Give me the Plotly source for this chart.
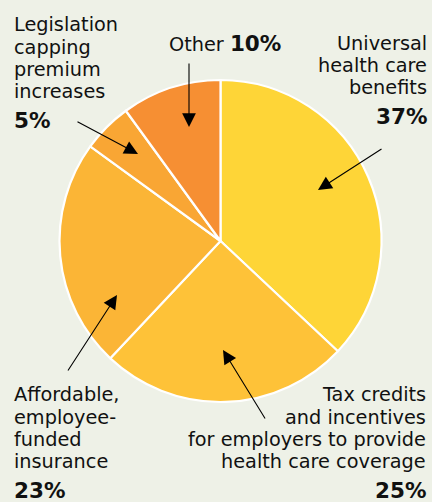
import plotly.graph_objects as go

# Survey shares, clockwise from 12 o'clock
categories = [
    "Universal health care benefits",
    "Tax credits and incentives for employers to provide health care coverage",
    "Affordable, employee-funded insurance",
    "Legislation capping premium increases",
    "Other",
]
values = [37, 25, 23, 5, 10]
slice_colors = ["#fed537", "#fec238", "#fbb536", "#f9a634", "#f68f33"]

# Wrapped label lines for each category
label_lines = [
    ["Universal", "health care", "benefits"],
    ["Tax credits", "and incentives", "for employers to provide", "health care coverage"],
    ["Affordable,", "employee-", "funded", "insurance"],
    ["Legislation", "capping", "premium", "increases"],
    ["Other"],
]

W, H = 432, 502
BG = "#eef1e7"
FONT = "DejaVu Sans"
FS = 19.3
PFS = 21.5
LINE = 22.3

fig = go.Figure()

# Pie geometry (pixels): centre and radius
cx, cy, r = 220.5, 241.0, 161.0
fig.add_trace(go.Pie(
    labels=categories,
    values=values,
    sort=False,
    direction="clockwise",
    rotation=0,
    marker=dict(colors=slice_colors, line=dict(color="white", width=2.2)),
    textinfo="none",
    hoverinfo="label+percent",
    showlegend=False,
    domain=dict(x=[(cx - r) / W, (cx + r) / W],
                y=[1 - (cy + r) / H, 1 - (cy - r) / H]),
))


def px(x):
    return x / W


def py(y):
    return 1 - y / H


def add_text(text, x, baseline, anchor, size, bold=False):
    # centre of the text box sits ~0.35em above the baseline
    yc = baseline - 0.35 * size
    fig.add_annotation(
        x=px(x), y=py(yc), xref="paper", yref="paper",
        text=f"<b>{text}</b>" if bold else text,
        showarrow=False, xanchor=anchor, yanchor="middle",
        font=dict(family=FONT, size=size, color="#111111"),
        borderpad=0,
    )


# Block placement: (x, first baseline, anchor)
blocks = {
    0: (428, 50.0, "right"),
    1: (427, 401.7, "right"),
    2: (13, 401.7, "left"),
    3: (13, 31.7, "left"),
}
for i, (x, b0, anchor) in blocks.items():
    lines = label_lines[i]
    for k, line in enumerate(lines):
        add_text(line, x, b0 + k * LINE, anchor, FS)
    last = b0 + (len(lines) - 1) * LINE
    add_text(f"{values[i]}%", x, last + 29.5, anchor, PFS, bold=True)

# "Other" sits on one line with its share
fig.add_annotation(
    x=px(225.5), y=py(50 - 0.35 * FS), xref="paper", yref="paper",
    text=f"{label_lines[4][0]} <b><span style='font-size:{PFS}px'>{values[4]}%</span></b>",
    showarrow=False, xanchor="center", yanchor="middle",
    font=dict(family=FONT, size=FS, color="#111111"), borderpad=0,
)

# Leader arrows: (tip x, tip y, tail x, tail y)
arrows = [
    (318, 190, 383, 148),
    (223, 350, 266, 420),
    (117, 295, 67, 372),
    (138, 154, 76, 121),
    (189, 127, 189, 62),
]
for tx, ty, sx, sy in arrows:
    fig.add_annotation(
        x=px(tx), y=py(ty), xref="paper", yref="paper",
        ax=sx - tx, ay=sy - ty, axref="pixel", ayref="pixel",
        text="", showarrow=True, arrowhead=2, arrowsize=2.5,
        arrowwidth=1.1, arrowcolor="#000000",
    )

fig.update_layout(
    width=W, height=H,
    margin=dict(l=0, r=0, t=0, b=0),
    paper_bgcolor=BG, plot_bgcolor=BG,
)

fig.write_html("out.html")
